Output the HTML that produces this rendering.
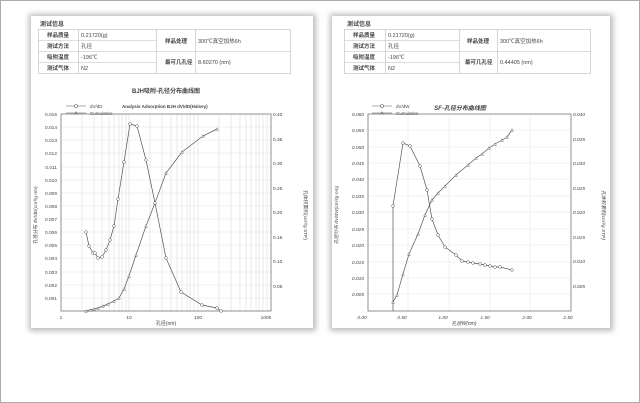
<!DOCTYPE html>
<html><head><meta charset="utf-8"><style>
body{margin:0;width:640px;height:403px;background:#fff;overflow:hidden}
svg{display:block}
text{font-family:"Liberation Sans","Noto Sans CJK SC",sans-serif;fill:#444}
</style></head><body>
<svg width="640" height="403" viewBox="0 0 640 403" xmlns="http://www.w3.org/2000/svg">
<defs>
<filter id="sh" x="-5%" y="-5%" width="110%" height="110%"><feGaussianBlur stdDeviation="3"/></filter>
<marker id="tri" markerWidth="4" markerHeight="4" refX="2" refY="2" markerUnits="userSpaceOnUse" overflow="visible"><path d="M0.6 3.2 L2 0.8 L3.4 3.2Z" fill="#fff" stroke="#555" stroke-width="0.5"/></marker>
</defs>
<rect x="0.5" y="0.5" width="639" height="402" fill="#fff" stroke="#aaa"/>
<rect x="29" y="14" width="287" height="317" fill="#bbb" filter="url(#sh)"/>
<rect x="31" y="16" width="282" height="312" fill="#fff"/>
<rect x="330" y="14" width="283" height="317" fill="#bbb" filter="url(#sh)"/>
<rect x="332" y="16" width="278" height="312" fill="#fff"/>

<text x="40" y="26" font-size="6" font-weight="bold">测试信息</text>
<g stroke="#bbb" stroke-width="0.6" fill="none">
<rect x="38.5" y="29.5" width="252" height="44"/>
<line x1="38.5" y1="40.5" x2="156.5" y2="40.5"/><line x1="38.5" y1="51.5" x2="290.5" y2="51.5"/><line x1="38.5" y1="62.5" x2="156.5" y2="62.5"/>
<line x1="78.5" y1="29.5" x2="78.5" y2="73.5"/><line x1="156.5" y1="29.5" x2="156.5" y2="73.5"/><line x1="195.5" y1="29.5" x2="195.5" y2="73.5"/>
</g>
<g font-size="5.5">
<text x="47" y="37" font-weight="bold">样品质量</text><text x="81" y="37">0.21720(g)</text>
<text x="47" y="48" font-weight="bold">测试方法</text><text x="81" y="48">孔径</text>
<text x="47" y="59" font-weight="bold">吸附温度</text><text x="81" y="59">-196℃</text>
<text x="47" y="70" font-weight="bold">测试气体</text><text x="81" y="70">N2</text>
<text x="165" y="43" font-weight="bold">样品处理</text><text x="198" y="43">300℃真空加热6h</text>
<text x="165" y="64" font-weight="bold">最可几孔径</text><text x="198" y="64">8.60270 (nm)</text>
</g>
<text x="166" y="93" font-size="6" text-anchor="middle" font-weight="bold">BJH吸附-孔径分布曲线图</text>
<g stroke="#555" stroke-width="0.6" fill="#fff">
<line x1="66" y1="106" x2="86" y2="106"/><circle cx="76" cy="106" r="1.5"/>
<line x1="66" y1="113" x2="86" y2="113"/><path d="M74.5 114.2 L76 111.8 L77.5 114.2Z"/>
</g>
<text x="90" y="108" font-size="4.5">dV/dD</text><text x="90" y="115" font-size="4.5">Cumulative</text>
<text x="122" y="108" font-size="4.5" font-weight="bold">Analysis Adsorption BJH dV/dD(Halsey)</text>
<g stroke="#e2e2e2" stroke-width="0.5">
<line x1="61" y1="127" x2="271" y2="127"/><line x1="61" y1="140" x2="271" y2="140"/><line x1="61" y1="153" x2="271" y2="153"/><line x1="61" y1="167" x2="271" y2="167"/><line x1="61" y1="180" x2="271" y2="180"/><line x1="61" y1="193" x2="271" y2="193"/><line x1="61" y1="206" x2="271" y2="206"/><line x1="61" y1="219" x2="271" y2="219"/><line x1="61" y1="232" x2="271" y2="232"/><line x1="61" y1="245" x2="271" y2="245"/><line x1="61" y1="258" x2="271" y2="258"/><line x1="61" y1="272" x2="271" y2="272"/><line x1="61" y1="285" x2="271" y2="285"/><line x1="61" y1="298" x2="271" y2="298"/>
</g>
<g stroke="#d4d4d4" stroke-width="0.5">
<path d="M82 114V311M94 114V311M102 114V311M109 114V311M114 114V311M119 114V311M122 114V311M126 114V311M129 114V311M150 114V311M162 114V311M171 114V311M177 114V311M182 114V311M187 114V311M190 114V311M194 114V311M198 114V311M219 114V311M231 114V311M240 114V311M246 114V311M251 114V311M256 114V311M259 114V311M263 114V311M267 114V311"/>
</g>
<rect x="61" y="114" width="210" height="197" fill="none" stroke="#777" stroke-width="0.8"/>
<g font-size="4.8" text-anchor="end">
<text x="57" y="116">0.015</text><text x="57" y="129">0.014</text><text x="57" y="142">0.013</text><text x="57" y="155">0.012</text><text x="57" y="169">0.011</text><text x="57" y="182">0.010</text><text x="57" y="195">0.009</text><text x="57" y="208">0.008</text><text x="57" y="221">0.007</text><text x="57" y="234">0.006</text><text x="57" y="247">0.005</text><text x="57" y="260">0.004</text><text x="57" y="274">0.003</text><text x="57" y="287">0.002</text><text x="57" y="300">0.001</text>
</g>
<g font-size="4.8">
<text x="273" y="116">0.40</text><text x="273" y="141">0.35</text><text x="273" y="165">0.30</text><text x="273" y="190">0.25</text><text x="273" y="214">0.20</text><text x="273" y="239">0.15</text><text x="273" y="263">0.10</text><text x="273" y="288">0.05</text>
</g>
<g font-size="4.8" text-anchor="middle">
<text x="61" y="319">1</text><text x="129" y="319">10</text><text x="198" y="319">100</text><text x="266" y="319">1000</text>
</g>
<text x="166" y="325" font-size="5" text-anchor="middle">孔径(nm)</text>
<text transform="translate(37,215) rotate(-90)" font-size="4.8" text-anchor="middle">孔径分布 dV/dD(cm³/g·nm)</text>
<text transform="translate(304,215) rotate(90)" font-size="4.8" text-anchor="middle">孔体积累积(cm³/g STP)</text>
<g fill="none" stroke="#555" stroke-width="0.7">
<polyline points="86,232 89,246 93,253 95,253 98,258 102,257 106,250 110,240 114,226 118,199 124,162 130,124 137,126 146,160 155,203 166,258 181,292 202,305 217,308 221,311"/>
<polyline marker-start="url(#tri)" marker-mid="url(#tri)" marker-end="url(#tri)" points="86,311 90,310 94,309 98,308 103,306 108,304 114,301 119,298 124,289 129,276 136,255 146,226 155,203 166,173 182,152 203,136 217,129"/>
</g>
<g fill="#fff" stroke="#555" stroke-width="0.5">
<circle cx="86" cy="232" r="1.4"/><circle cx="89" cy="246" r="1.4"/><circle cx="93" cy="253" r="1.4"/><circle cx="95" cy="253" r="1.4"/><circle cx="98" cy="258" r="1.4"/><circle cx="102" cy="257" r="1.4"/><circle cx="106" cy="250" r="1.4"/><circle cx="110" cy="240" r="1.4"/><circle cx="114" cy="226" r="1.4"/><circle cx="118" cy="199" r="1.4"/><circle cx="124" cy="162" r="1.4"/><circle cx="130" cy="124" r="1.4"/><circle cx="137" cy="126" r="1.4"/><circle cx="146" cy="160" r="1.4"/><circle cx="155" cy="203" r="1.4"/><circle cx="166" cy="258" r="1.4"/><circle cx="181" cy="292" r="1.4"/><circle cx="202" cy="305" r="1.4"/><circle cx="217" cy="308" r="1.4"/><circle cx="221" cy="311" r="1.4"/>
</g>

<text x="347" y="26" font-size="6" font-weight="bold">测试信息</text>
<g stroke="#bbb" stroke-width="0.6" fill="none">
<rect x="344.5" y="29.5" width="246" height="44"/>
<line x1="344.5" y1="40.5" x2="459.5" y2="40.5"/><line x1="344.5" y1="51.5" x2="590.5" y2="51.5"/><line x1="344.5" y1="62.5" x2="459.5" y2="62.5"/>
<line x1="385.5" y1="29.5" x2="385.5" y2="73.5"/><line x1="459.5" y1="29.5" x2="459.5" y2="73.5"/><line x1="497.5" y1="29.5" x2="497.5" y2="73.5"/>
</g>
<g font-size="5.5">
<text x="353" y="37" font-weight="bold">样品质量</text><text x="388" y="37">0.21720(g)</text>
<text x="353" y="48" font-weight="bold">测试方法</text><text x="388" y="48">孔径</text>
<text x="353" y="59" font-weight="bold">吸附温度</text><text x="388" y="59">-196℃</text>
<text x="353" y="70" font-weight="bold">测试气体</text><text x="388" y="70">N2</text>
<text x="467" y="43" font-weight="bold">样品处理</text><text x="500" y="43">300℃真空加热6h</text>
<text x="465" y="64" font-weight="bold">最可几孔径</text><text x="500" y="64">0.44405 (nm)</text>
</g>
<text x="460" y="110" font-size="6" text-anchor="middle" font-weight="bold" font-style="italic">SF-孔径分布曲线图</text>
<g stroke="#555" stroke-width="0.6" fill="#fff">
<line x1="372" y1="106" x2="392" y2="106"/><circle cx="382" cy="106" r="1.5"/>
<line x1="372" y1="113" x2="392" y2="113"/><path d="M380.5 114.2 L382 111.8 L383.5 114.2Z"/>
</g>
<text x="396" y="108" font-size="4.5">dV/dW</text><text x="396" y="115" font-size="4.5">Cumulative</text>
<g stroke="#e2e2e2" stroke-width="0.5">
<path d="M368 130H571M368 147H571M368 163H571M368 179H571M368 196H571M368 212H571M368 229H571M368 245H571M368 262H571M368 278H571M368 294H571"/>
<path d="M408 114V311M449 114V311M490 114V311M530 114V311"/>
</g>
<rect x="368" y="114" width="203" height="197" fill="none" stroke="#777" stroke-width="0.8"/>
<g font-size="4.8" text-anchor="end" font-style="italic">
<text x="364" y="116">0.060</text><text x="364" y="132">0.055</text><text x="364" y="149">0.050</text><text x="364" y="165">0.045</text><text x="364" y="181">0.040</text><text x="364" y="198">0.035</text><text x="364" y="214">0.030</text><text x="364" y="231">0.025</text><text x="364" y="247">0.020</text><text x="364" y="264">0.015</text><text x="364" y="280">0.010</text><text x="364" y="296">0.005</text>
</g>
<g font-size="4.8" font-style="italic">
<text x="573" y="116">0.040</text><text x="573" y="141">0.035</text><text x="573" y="165">0.030</text><text x="573" y="190">0.025</text><text x="573" y="214">0.020</text><text x="573" y="239">0.015</text><text x="573" y="263">0.010</text><text x="573" y="288">0.005</text>
</g>
<g font-size="4.8" text-anchor="middle" font-style="italic">
<text x="362" y="319">0.00</text><text x="402" y="319">0.50</text><text x="443" y="319">1.00</text><text x="485" y="319">1.50</text><text x="527" y="319">2.00</text><text x="568" y="319">2.50</text>
</g>
<text x="464" y="325" font-size="5" text-anchor="middle" font-style="italic">孔径W(nm)</text>
<text transform="translate(338,215) rotate(-90)" font-size="4.8" text-anchor="middle" font-style="italic">孔径分布 dV/dW(cm³/g·nm)</text>
<text transform="translate(602,215) rotate(90)" font-size="4.8" text-anchor="middle" font-style="italic">孔体积累积(cm³/g STP)</text>
<g fill="none" stroke="#555" stroke-width="0.7">
<polyline points="393,311 393,206 403,143 410,146 420,166 427,190 432,219 438,235 445,247 456,255 462,261 468,262 473,263 480,264 485,265 490,266 495,267 500,267 512,270"/>
<polyline marker-start="url(#tri)" marker-mid="url(#tri)" marker-end="url(#tri)" points="393,302 397,295 403,274 409,254 418,234 425,215 432,200 438,193 445,186 456,175 468,165 476,158 482,154 489,148 495,144 502,140 507,137 512,130"/>
</g>
<g fill="#fff" stroke="#555" stroke-width="0.5">
<circle cx="393" cy="206" r="1.4"/><circle cx="403" cy="143" r="1.4"/><circle cx="410" cy="146" r="1.4"/><circle cx="420" cy="166" r="1.4"/><circle cx="427" cy="190" r="1.4"/><circle cx="432" cy="219" r="1.4"/><circle cx="438" cy="235" r="1.4"/><circle cx="445" cy="247" r="1.4"/><circle cx="456" cy="255" r="1.4"/><circle cx="462" cy="261" r="1.4"/><circle cx="468" cy="262" r="1.4"/><circle cx="473" cy="263" r="1.4"/><circle cx="480" cy="264" r="1.4"/><circle cx="485" cy="265" r="1.4"/><circle cx="490" cy="266" r="1.4"/><circle cx="495" cy="267" r="1.4"/><circle cx="500" cy="267" r="1.4"/><circle cx="512" cy="270" r="1.4"/>
</g>
</svg>
</body></html>
